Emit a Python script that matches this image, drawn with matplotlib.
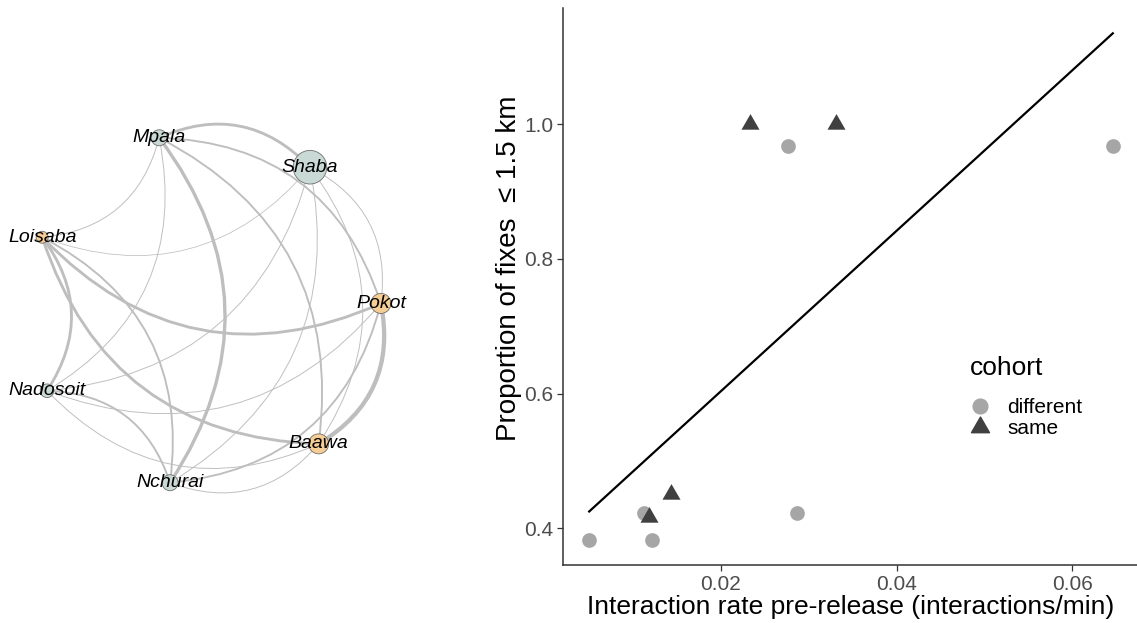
import numpy as np
import matplotlib
matplotlib.use("Agg")
import matplotlib.pyplot as plt
from matplotlib.path import Path
from matplotlib.patches import PathPatch, Circle
from matplotlib.lines import Line2D

plt.rcParams['font.family'] = ['Liberation Sans', 'DejaVu Sans']

# ---------------- network data ----------------
# vertices in circle-layout order (counter-clockwise from angle 0)
nodes = ["Pokot", "Shaba", "Mpala", "Loisaba", "Nadosoit", "Nchurai", "Baawa"]
node_group = ["b", "a", "a", "b", "a", "a", "b"]
node_strength = [5.0, 8.4, 4.0, 3.0, 3.4, 4.0, 5.0]

edge_from = ["Mpala", "Mpala", "Mpala", "Mpala", "Mpala", "Mpala",
             "Shaba", "Shaba", "Shaba", "Shaba", "Shaba",
             "Pokot", "Pokot", "Pokot", "Pokot",
             "Baawa", "Baawa", "Baawa",
             "Loisaba", "Loisaba", "Nadosoit"]
edge_to = ["Shaba", "Pokot", "Baawa", "Loisaba", "Nadosoit", "Nchurai",
           "Pokot", "Baawa", "Loisaba", "Nadosoit", "Nchurai",
           "Baawa", "Loisaba", "Nadosoit", "Nchurai",
           "Loisaba", "Nadosoit", "Nchurai",
           "Nadosoit", "Nchurai", "Nchurai"]
edge_weight = [3, 2, 2, 1, 1, 3.5,
               1, 1, 0.8, 1, 1,
               4.5, 3, 1, 2,
               3, 1, 1,
               3, 2, 2]

# ---------------- scatter data ----------------
x_different = [0.0050, 0.0122, 0.0112, 0.0276, 0.0287, 0.0646]
y_different = [0.383, 0.383, 0.422, 0.968, 0.422, 0.968]
x_same = [0.0118, 0.0143, 0.0233, 0.0331]
y_same = [0.417, 0.451, 1.000, 1.000]
cohort_labels = ["different", "same"]

W, H = 1137, 623
fig = plt.figure(figsize=(W / 100, H / 100), dpi=100)

# ================= network panel =================
net_w = 0.45
axn = fig.add_axes([0, 0, net_w, 1])
axn.set_xlim(0, net_w * W)
axn.set_ylim(0, H)
axn.axis('off')

cx, cy, R = 204.0, H - 309.0, 177.0
rot = np.deg2rad(1.8)
n = len(nodes)
ang = rot + 2 * np.pi * np.arange(n) / n
pos = {nm: np.array([cx + R * np.cos(a), cy + R * np.sin(a)]) for nm, a in zip(nodes, ang)}

curv = 0.35
for f, t, w in zip(edge_from, edge_to, edge_weight):
    p0, p1 = pos[f], pos[t]
    d = p1 - p0
    ctrl = (p0 + p1) / 2 + curv * np.array([-d[1], d[0]])
    path = Path([p0, ctrl, p1], [Path.MOVETO, Path.CURVE3, Path.CURVE3])
    axn.add_patch(PathPatch(path, fill=False, edgecolor='#BEBEBE',
                            lw=w * 0.95 * 0.72, capstyle='round', zorder=1))

fill = {"a": "#C9D9D6", "b": "#F6CD93"}
for nm, g, s in zip(nodes, node_group, node_strength):
    axn.add_patch(Circle(pos[nm], radius=2 * s, facecolor=fill[g],
                         edgecolor='#6E6E6E', lw=0.6, zorder=2))
    axn.text(pos[nm][0], pos[nm][1], nm, fontsize=14, style='italic',
             ha='center', va='center', color='black', zorder=3)

# ================= scatter panel =================
left_px, right_px, top_px, bot_px = 563, 1139, 8, 565
ax = fig.add_axes([left_px / W, (H - bot_px) / H, (right_px - left_px) / W, (bot_px - top_px) / H])

xa = np.array(x_different + x_same)
ya = np.array(y_different + y_same)
slope, icept = np.polyfit(xa, ya, 1)
xl = np.array([xa.min(), xa.max()])
yl = icept + slope * xl

tri = Path([(-1, -0.577), (1, -0.577), (0, 1.155), (-1, -0.577)],
           [Path.MOVETO, Path.LINETO, Path.LINETO, Path.CLOSEPOLY])

ax.plot(xl, yl, color='black', lw=1.6, zorder=3)
ax.scatter(x_different, y_different, s=112, marker='o', color='#A6A6A6',
           linewidths=0, zorder=2)
ax.scatter(x_same, y_same, s=225, marker=tri, color='#404040',
           linewidths=0, zorder=2)

xr = xa.max() - xa.min()
ax.set_xlim(xa.min() - 0.05 * xr, xa.max() + 0.05 * xr)
ylo = min(ya.min(), yl.min()); yhi = max(ya.max(), yl.max())
yr = yhi - ylo
ax.set_ylim(ylo - 0.05 * yr, yhi + 0.05 * yr)

ax.set_xticks([0.02, 0.04, 0.06])
ax.set_xticklabels(["0.02", "0.04", "0.06"])
ax.set_yticks([0.4, 0.6, 0.8, 1.0])
ax.set_yticklabels(["0.4", "0.6", "0.8", "1.0"])
ax.tick_params(axis='both', labelsize=15, colors='#333333', labelcolor='#4D4D4D',
               length=4, width=0.9, pad=3)
for sp in ['top', 'right']:
    ax.spines[sp].set_visible(False)
for sp in ['left', 'bottom']:
    ax.spines[sp].set_color('#333333')
    ax.spines[sp].set_linewidth(1.1)

ax.set_xlabel("Interaction rate pre-release (interactions/min)", fontsize=19,
              color='black', labelpad=1)
ax.set_ylabel("Proportion of fixes  \u2264 1.5 km", fontsize=20, color='black')
ax.yaxis.set_label_coords(-0.0705, 0.532)

handles = [Line2D([], [], marker='o', color='#A6A6A6', markersize=10.6, linestyle='None'),
           Line2D([], [], marker=tri, color='#404040', markersize=15, linestyle='None')]
fig.text(970 / W, 1 - 368 / H, "cohort", fontsize=19, ha='left', va='center', color='black')
leg = fig.legend(handles, cohort_labels, loc='upper left',
                 bbox_to_anchor=(967 / W, 1 - 398 / H), frameon=False,
                 fontsize=15, borderpad=0, labelspacing=0.1,
                 handlelength=1.2, handletextpad=0.72, borderaxespad=0)

fig.savefig("out.png", dpi=100)
